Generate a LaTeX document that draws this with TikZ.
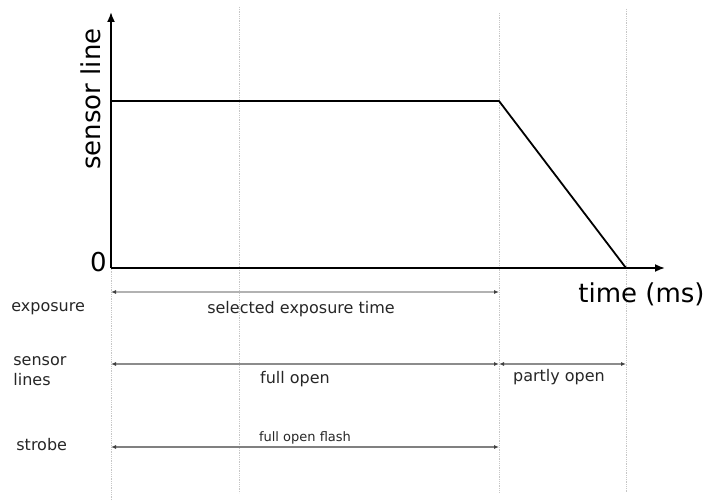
\documentclass[tikz,border=0pt]{standalone}
\usepackage{fontspec}
\setmainfont{DejaVu Sans}
\usepackage{tikz}
\usetikzlibrary{arrows.meta}
\tikzset{
  guide/.style={densely dotted,color=gray!45,line width=0.8pt},
  span/.style={{Latex[length=5pt,width=4pt,color=black!75]}-{Latex[length=5pt,width=4pt,color=black!75]},line width=1.3pt},
  rowlabel/.style={anchor=base west,inner sep=0pt,font=\fontsize{16}{18}\selectfont,color=black!85},
  spanlabel/.style={anchor=base,inner sep=0pt,font=\fontsize{16}{18}\selectfont,color=black!85},
  biglabel/.style={inner sep=0pt,font=\fontsize{26}{30}\selectfont}
}
\begin{document}
\begin{tikzpicture}[x=1pt,y=1pt,thick]
\useasboundingbox (0,0) rectangle (711,500);
%%%%% Guides %%%%%
\coordinate (o) at (111,232);
\draw[guide] (111,0)--(o);
\foreach \gx/\gtop in {239/493,499/487,626/491}{
\draw[guide] (\gx,\gtop)--(\gx,7);
}
%%%%% Axis %%%%%
\coordinate (ytop) at (111,488);
\coordinate (xend) at (665,232);
\draw[-{Latex[length=10pt,width=8pt]},line width=1.8pt] (o)--(ytop);
\draw[-{Latex[length=10pt,width=8pt]},line width=1.8pt] (o)--(xend);
\node[biglabel,rotate=90] (ylab) at (91,401) {sensor line};
\node[biglabel,anchor=base east] (zero) at (107,228) {0};
\node[biglabel,anchor=base west] (xlab) at (578,197) {time (ms)};
%%%%% Curve %%%%%
\coordinate (p0) at (111,399);
\coordinate (p1) at (499,399);
\coordinate (p2) at (626,232);
\draw[line width=1.8pt,line join=round] (p0)--(p1)--(p2);
%%%%% Rows %%%%%
\coordinate (ea) at (111,208);
\coordinate (eb) at (499,208);
\coordinate (sa) at (111,136);
\coordinate (sb) at (499,136);
\coordinate (sc) at (626,136);
\coordinate (fa) at (111,53);
\coordinate (fb) at (499,53);
\node[rowlabel] (exposure) at (11,188) {exposure};
\node[rowlabel] (sensor) at (13,134) {sensor};
\node[rowlabel] (lines) at (13,114) {lines};
\node[rowlabel] (strobe) at (16,49) {strobe};
\draw[span,color=gray!60,line width=2pt] (ea)--(eb);
\node[spanlabel] (selected) at (301,186) {selected exposure time};
\draw[span,color=gray!110!black] (sa)--(sb);
\draw[span,color=gray!110!black] (sb)--(sc);
\node[spanlabel] (fullopen) at (295,116) {full open};
\node[spanlabel] (partly) at (559,118) {partly open};
\draw[span,color=gray] (fa)--(fb);
\node[spanlabel,font=\fontsize{13}{15}\selectfont] (flash) at (305,58) {full open flash};
\end{tikzpicture}
\end{document}
